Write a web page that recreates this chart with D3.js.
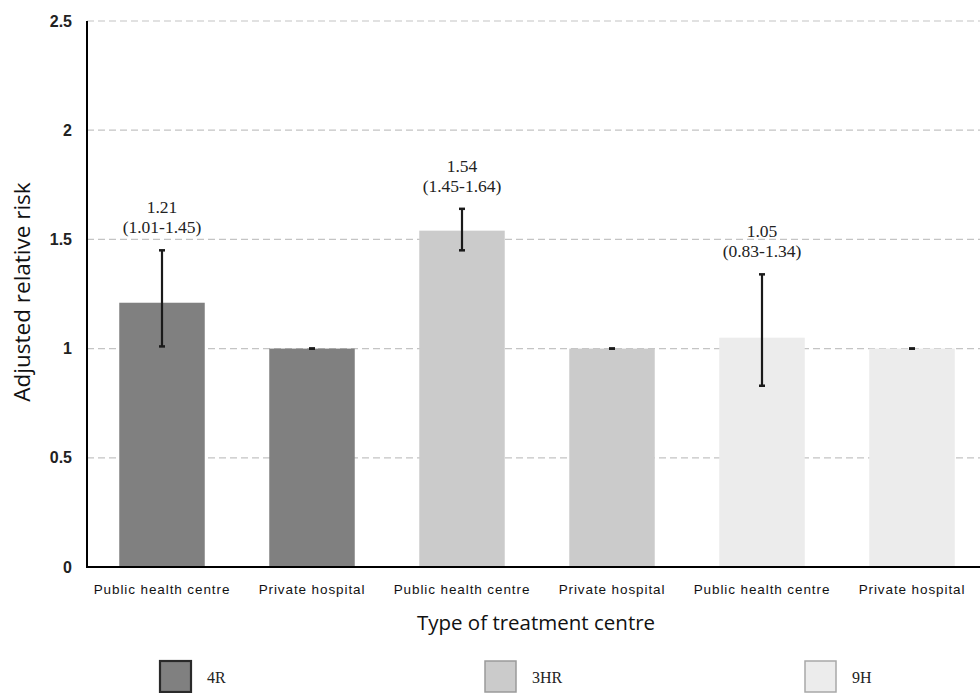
<!DOCTYPE html>
<html>
<head>
<meta charset="utf-8">
<script src="https://cdn.jsdelivr.net/npm/d3@7"></script>
<style>
  html, body { margin: 0; padding: 0; background: #fff; }
  svg { display: block; }
</style>
</head>
<body>
<svg id="chart" width="980" height="693"></svg>
<script>
// Adjusted relative risk of treatment outcome by regimen and type of centre
const categories = ["Public health centre", "Private hospital", "Public health centre", "Private hospital", "Public health centre", "Private hospital"];
const regimens   = ["4R", "4R", "3HR", "3HR", "9H", "9H"];
const riskValues = [1.21, 1.00, 1.54, 1.00, 1.05, 1.00];
const ciLower    = [1.01, 1.00, 1.45, 1.00, 0.83, 1.00];
const ciUpper    = [1.45, 1.00, 1.64, 1.00, 1.34, 1.00];
const showLabel  = [true, false, true, false, true, false];
const yTicks     = [0, 0.5, 1, 1.5, 2, 2.5];
const legendKeys = ["4R", "3HR", "9H"];

const colour = d3.scaleOrdinal().domain(legendKeys).range(["#808080", "#cbcbcb", "#ececec"]);
const legendStroke = d3.scaleOrdinal().domain(legendKeys).range(["#2a2a2a", "#9a9a9a", "#a8a8a8"]);

const svg = d3.select("#chart");
const plotLeft = 87, plotRight = 987, plotTop = 21, plotBottom = 567;

const x = d3.scaleBand().domain(d3.range(categories.length)).range([plotLeft, plotRight]).paddingInner(0.43).paddingOuter(0.215);
const y = d3.scaleLinear().domain([0, 2.5]).range([plotBottom, plotTop]);

// dashed gridlines
svg.append("g").selectAll("line").data(yTicks.filter(t => t > 0)).join("line")
  .attr("x1", plotLeft).attr("x2", 980)
  .attr("y1", d => y(d)).attr("y2", d => y(d))
  .attr("stroke", "#c4c4c4").attr("stroke-width", 1.2).attr("stroke-dasharray", "7,4");

// y tick labels
const yAxis = d3.axisLeft(y).tickValues(yTicks).tickSize(0).tickPadding(15).tickFormat(d3.format("~g"));
const ya = svg.append("g").attr("transform", `translate(${plotLeft},0)`).call(yAxis);
ya.select(".domain").remove();
ya.selectAll("text").attr("font-family", "Arial, 'Liberation Sans', sans-serif").attr("font-size", 16).attr("font-weight", "bold").attr("fill", "#222");

// bars
const idx = d3.range(categories.length);
svg.append("g").selectAll("rect").data(idx).join("rect")
  .attr("x", i => x(i)).attr("width", x.bandwidth())
  .attr("y", i => y(riskValues[i])).attr("height", i => y(0) - y(riskValues[i]))
  .attr("fill", i => colour(regimens[i]));

// error bars
const eb = svg.append("g").attr("stroke", "#1a1a1a");
idx.forEach(i => {
  const cx = x(i) + x.bandwidth() / 2;
  eb.append("line").attr("x1", cx).attr("x2", cx).attr("y1", y(ciLower[i])).attr("y2", y(ciUpper[i])).attr("stroke-width", 2.2);
  [ciLower[i], ciUpper[i]].forEach(v => {
    eb.append("line").attr("x1", cx - 3).attr("x2", cx + 3).attr("y1", y(v)).attr("y2", y(v)).attr("stroke-width", 2.5);
  });
});

// value labels
const lab = svg.append("g").attr("font-family", "'Times New Roman', 'Liberation Serif', serif").attr("font-size", 17.5).attr("fill", "#222").attr("text-anchor", "middle");
idx.filter(i => showLabel[i]).forEach(i => {
  const cx = x(i) + x.bandwidth() / 2;
  const yt = y(ciUpper[i]);
  lab.append("text").attr("x", cx).attr("y", yt - 37).text(riskValues[i].toFixed(2));
  lab.append("text").attr("x", cx).attr("y", yt - 17).text(`(${ciLower[i].toFixed(2)}-${ciUpper[i].toFixed(2)})`);
});

// x tick labels
const xAxis = d3.axisBottom(x).tickSize(0).tickPadding(17).tickFormat(i => categories[i]);
const xa = svg.append("g").attr("transform", `translate(0,${plotBottom})`).call(xAxis);
xa.select(".domain").remove();
xa.selectAll("text").attr("font-family", "Arial, 'Liberation Sans', sans-serif").attr("font-size", 13.5).attr("letter-spacing", "0.9px").attr("fill", "#111");

// axis lines
svg.append("line").attr("x1", plotLeft).attr("x2", plotLeft).attr("y1", plotTop).attr("y2", plotBottom).attr("stroke", "#000").attr("stroke-width", 2);
svg.append("line").attr("x1", plotLeft - 1).attr("x2", 980).attr("y1", plotBottom).attr("y2", plotBottom).attr("stroke", "#000").attr("stroke-width", 2);

// axis titles
svg.append("text").attr("x", 536).attr("y", 630).attr("text-anchor", "middle")
  .attr("font-family", "'Open Sans', 'Noto Sans', sans-serif").attr("font-size", 20.5).attr("fill", "#111")
  .text("Type of treatment centre");
svg.append("text").attr("transform", `translate(30,292) rotate(-90)`).attr("text-anchor", "middle")
  .attr("font-family", "'Open Sans', 'Noto Sans', sans-serif").attr("font-size", 22.5).attr("fill", "#111")
  .text("Adjusted relative risk");

// legend
const legendX = [160, 485, 805];
const lg = svg.append("g");
legendKeys.forEach((k, j) => {
  lg.append("rect").attr("x", legendX[j]).attr("y", 661).attr("width", 31).attr("height", 31)
    .attr("fill", colour(k)).attr("stroke", legendStroke(k)).attr("stroke-width", j === 0 ? 2.2 : 1.5);
  lg.append("text").attr("x", legendX[j] + 47).attr("y", 683)
    .attr("font-family", "'Times New Roman', 'Liberation Serif', serif").attr("font-size", 16).attr("fill", "#222")
    .text(k);
});
</script>
</body>
</html>
